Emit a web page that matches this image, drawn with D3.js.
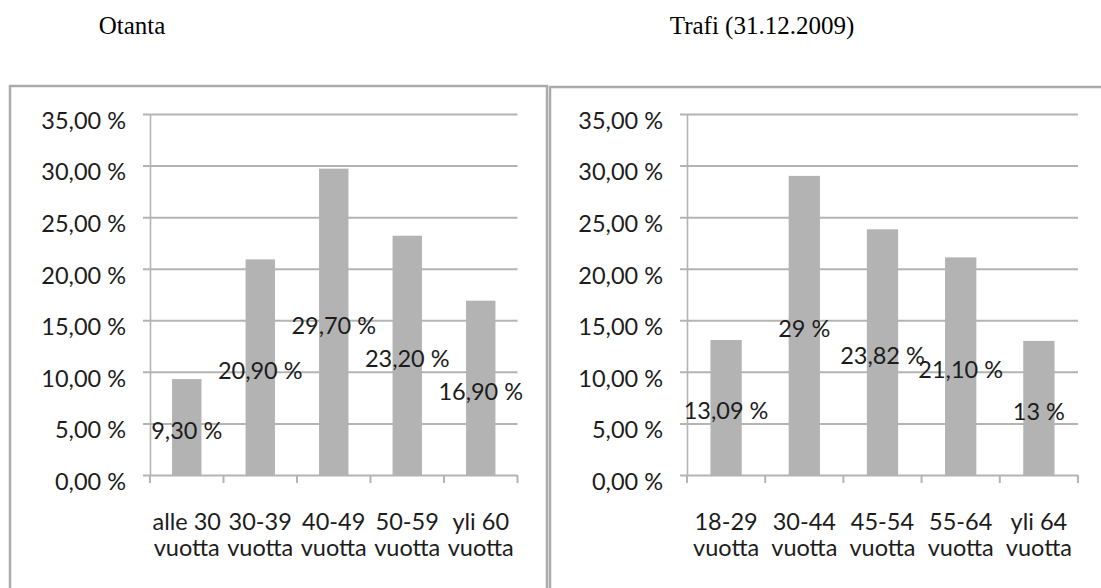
<!DOCTYPE html>
<html>
<head>
<meta charset="utf-8">
<script src="https://cdn.jsdelivr.net/npm/d3@7"></script>
<style>
  html, body { margin: 0; padding: 0; background: #fff; }
  svg { display: block; }
  .title { font-family: "Liberation Serif", "Times New Roman", serif; font-size: 25px; fill: #000; }
  .lbl { font-family: Lato, "Open Sans", sans-serif; font-size: 23.5px; fill: #1c1c1c; }
</style>
</head>
<body>
<svg id="chart" width="1101" height="588"></svg>
<script>
// Age distribution: sample ("Otanta") vs. Trafi register (31.12.2009)
const sampleTitle = "Otanta";
const sampleCategories = [["alle 30", "vuotta"], ["30-39", "vuotta"], ["40-49", "vuotta"], ["50-59", "vuotta"], ["yli 60", "vuotta"]];
const sampleValues = [9.30, 20.90, 29.70, 23.20, 16.90];
const sampleDecimals = [2, 2, 2, 2, 2];

const trafiTitle = "Trafi (31.12.2009)";
const trafiCategories = [["18-29", "vuotta"], ["30-44", "vuotta"], ["45-54", "vuotta"], ["55-64", "vuotta"], ["yli 64", "vuotta"]];
const trafiValues = [13.09, 29, 23.82, 21.10, 13];
const trafiDecimals = [2, 0, 2, 2, 0];

const yTicks = [0, 5, 10, 15, 20, 25, 30, 35];

const fi = d3.formatLocale({ decimal: ",", thousands: "\u00a0", grouping: [3], currency: ["", " €"] });
const pct = (v, d) => fi.format("." + d + "f")(v) + " %";

const svg = d3.select("#chart");

const GRID = "#b4b4b4";
const BAR = "#b3b3b3";
const FRAME = "#ababab";

function drawPanel(opt) {
  const g = svg.append("g");

  // chart frame (runs past the bottom of the page)
  g.append("rect")
    .attr("x", opt.frame[0]).attr("y", opt.frame[1])
    .attr("width", opt.frame[2]).attr("height", 600)
    .attr("fill", "none").attr("stroke", FRAME).attr("stroke-width", 2.5);

  // title
  g.append("text").attr("class", "title")
    .attr("x", opt.titleX).attr("y", 34)
    .attr("text-anchor", "middle")
    .text(opt.title);

  const y = d3.scaleLinear().domain([0, 35]).range([475, 114]);
  const x = d3.scaleBand()
    .domain(opt.categories.map((c, i) => i))
    .range([opt.x0, opt.x1])
    .paddingInner(0.6).paddingOuter(0.3);

  // horizontal gridlines + y ticks
  const yAxis = d3.axisLeft(y).tickValues(yTicks)
    .tickSize(-(opt.x1 - opt.x0)).tickSizeOuter(0).tickPadding(24)
    .tickFormat(d => pct(d, 2));
  const ya = g.append("g").attr("transform", `translate(${opt.x0},0)`).call(yAxis);
  ya.select(".domain").attr("stroke", GRID).attr("stroke-width", 1.6);
  ya.selectAll(".tick line").attr("stroke", GRID).attr("stroke-width", 2)
    .attr("x1", -7);
  ya.selectAll(".tick text").attr("class", "lbl").attr("fill", "#1c1c1c")
    .attr("dy", "0.78em").attr("y", -4);

  // bars
  g.append("g").selectAll("rect")
    .data(opt.values)
    .join("rect")
    .attr("x", (d, i) => x(i))
    .attr("width", x.bandwidth())
    .attr("y", d => y(d))
    .attr("height", d => y(0) - y(d))
    .attr("fill", BAR);

  // category boundary ticks below the baseline
  const step = x.step();
  const bounds = d3.range(opt.categories.length + 1).map(i => opt.x0 + i * step);
  g.append("g").selectAll("line")
    .data(bounds)
    .join("line")
    .attr("x1", d => d).attr("x2", d => d)
    .attr("y1", y(0)).attr("y2", y(0) + 8)
    .attr("stroke", GRID).attr("stroke-width", 2);

  // category labels (two lines)
  const cat = g.append("g").selectAll("text")
    .data(opt.categories)
    .join("text")
    .attr("class", "lbl")
    .attr("text-anchor", "middle")
    .attr("x", (d, i) => x(i) + x.bandwidth() / 2)
    .attr("y", 530);
  cat.selectAll("tspan")
    .data(d => d)
    .join("tspan")
    .attr("x", function () { return d3.select(this.parentNode).attr("x"); })
    .attr("dy", (d, i) => i === 0 ? 0 : 26)
    .text(d => d);

  // data labels, centred in each bar
  g.append("g").selectAll("text")
    .data(opt.values)
    .join("text")
    .attr("class", "lbl")
    .attr("text-anchor", "middle")
    .attr("x", (d, i) => x(i) + x.bandwidth() / 2)
    .attr("y", d => y(d / 2) + 12)
    .text((d, i) => pct(d, opt.decimals[i]));
}

drawPanel({
  title: sampleTitle, titleX: 132,
  categories: sampleCategories, values: sampleValues, decimals: sampleDecimals,
  frame: [10, 86, 537], x0: 150, x1: 517.5
});

drawPanel({
  title: trafiTitle, titleX: 762,
  categories: trafiCategories, values: trafiValues, decimals: trafiDecimals,
  frame: [550, 87, 600], x0: 687, x1: 1078
});
</script>
</body>
</html>
